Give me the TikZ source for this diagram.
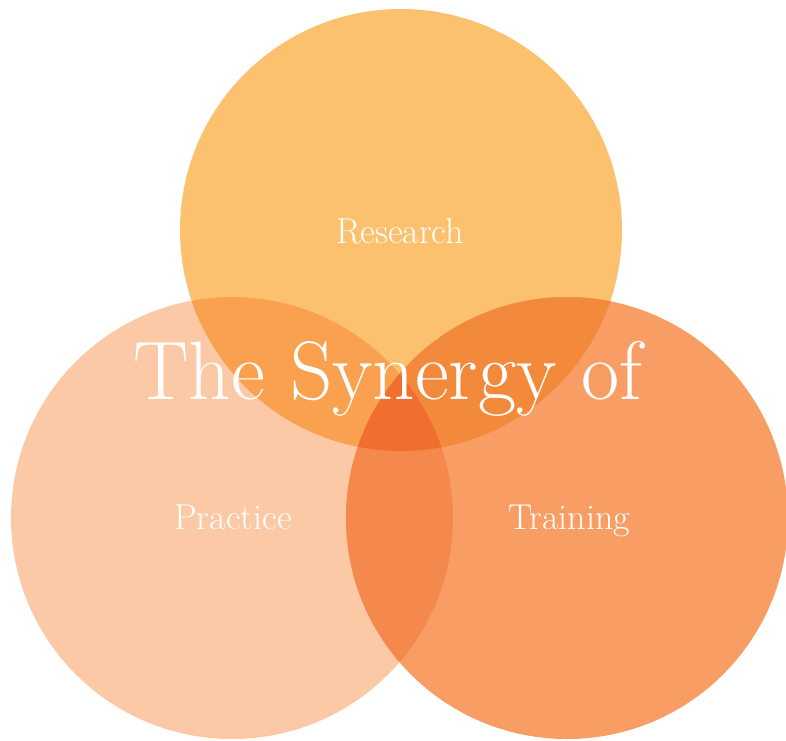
\documentclass[tikz,border=0pt]{standalone}
\usepackage{xcolor}
\usepackage{tikz}

\definecolor{researchcol}{HTML}{FCC16E}
\definecolor{practicecol}{HTML}{FBC9A5}
\definecolor{trainingcol}{HTML}{F89E65}
\definecolor{respraccol}{HTML}{F9A14F}
\definecolor{restraincol}{HTML}{F3893A}
\definecolor{practraincol}{HTML}{F5884C}
\definecolor{synergycol}{HTML}{F06F2F}

\begin{document}
\begin{tikzpicture}[x=0.5pt, y=-0.5pt]
    % Define styles
    \tikzstyle{ring} = [circle, minimum size=221pt, inner sep=0pt]
    \tikzstyle{label} = [text=white, font=\fontsize{18}{20}\selectfont, anchor=base]
    \tikzstyle{title} = [text=white, font=\fontsize{41.5}{46}\selectfont, anchor=base]

    \useasboundingbox (0,0) rectangle (786,740);

    % Circles
    \node[ring, fill=researchcol] (research) at (401,230) {};
    \node[ring, fill=practicecol] (practice) at (232,518) {};
    \node[ring, fill=trainingcol] (training) at (567,518) {};

    % Overlaps
    \begin{scope}
        \clip (practice.center) circle (221);
        \fill[practraincol] (training.center) circle (221);
    \end{scope}
    \begin{scope}
        \clip (research.center) circle (221);
        \fill[respraccol] (practice.center) circle (221);
        \fill[restraincol] (training.center) circle (221);
        \clip (practice.center) circle (221);
        \fill[synergycol] (training.center) circle (221);
    \end{scope}

    % Labels
    \node[label] (researchtxt) at (400,243) {Research};
    \node[label] (practicetxt) at (233,529) {Practice};
    \node[label] (trainingtxt) at (569,529) {Training};
    \node[title] (synergytxt) at (388,399) {The Synergy of};
\end{tikzpicture}
\end{document}
